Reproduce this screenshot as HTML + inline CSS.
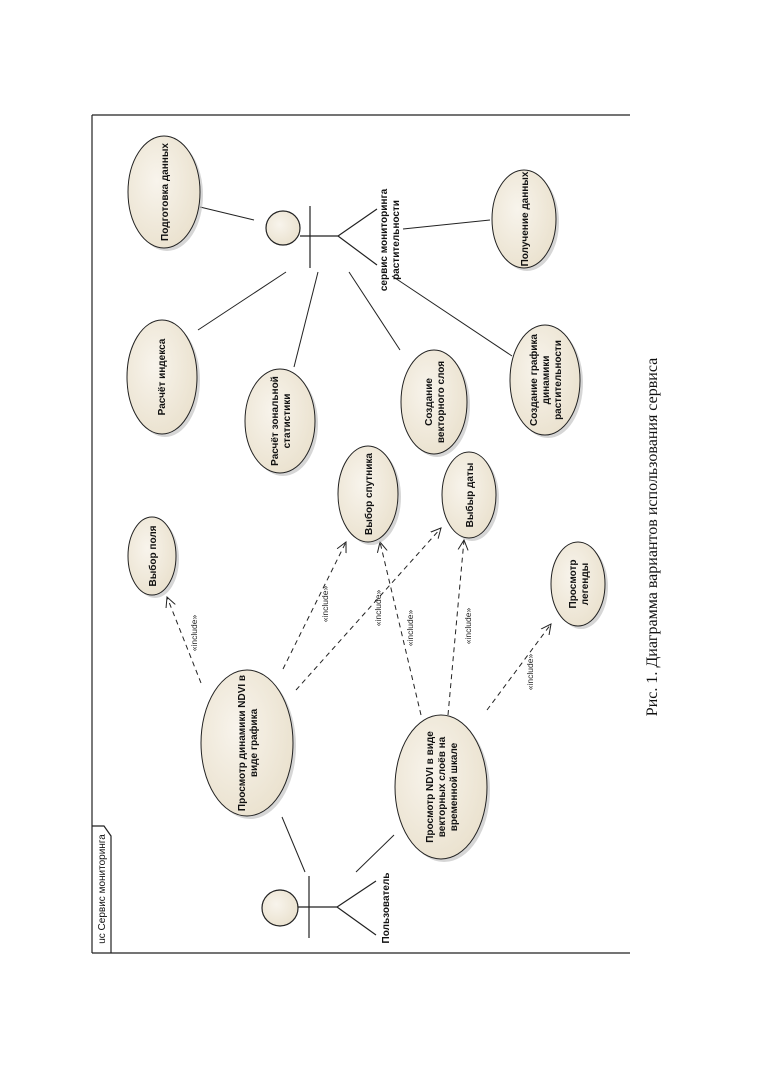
<!DOCTYPE html>
<html><head><meta charset="utf-8"><style>
html,body{margin:0;padding:0;background:#fff;}
svg{display:block;}
text{font-family:"Liberation Sans",sans-serif;}
.u{font-size:10px;font-weight:bold;fill:#111;}
.i{font-size:8.5px;fill:#222;}
</style></head><body>
<svg width="764" height="1080" viewBox="0 0 764 1080" xmlns="http://www.w3.org/2000/svg">
<defs>
<radialGradient id="g" cx="0.4" cy="0.4" r="0.7"><stop offset="0" stop-color="#f8f4ec"/><stop offset="1" stop-color="#e9e0cc"/></radialGradient>
<marker id="a" markerWidth="12" markerHeight="12" refX="10" refY="6" orient="auto" markerUnits="userSpaceOnUse"><path d="M0,1 L10,6 L0,11" fill="none" stroke="#222" stroke-width="1"/></marker>
</defs>
<g stroke="#222" stroke-width="1.2" fill="none">
<line x1="92" y1="115" x2="630" y2="115"/>
<line x1="92" y1="953" x2="630" y2="953"/>
<line x1="92" y1="115" x2="92" y2="953"/>
<polyline points="92,826 104,826 111,836 111,953"/>
</g>
<text transform="translate(105,889) rotate(-90)" text-anchor="middle" style="font-size:10px;fill:#111">uc Сервис мониторинга</text>

<g stroke="#222" stroke-width="1">
<line x1="200" y1="207" x2="254" y2="220"/>
<line x1="198" y1="330" x2="286" y2="272"/>
<line x1="294" y1="367" x2="318" y2="272"/>
<line x1="400" y1="350" x2="349" y2="272"/>
<line x1="512" y1="356" x2="392" y2="276"/>
<line x1="490" y1="220" x2="403" y2="229"/>
<line x1="282" y1="817" x2="305" y2="872"/>
<line x1="394" y1="835" x2="356" y2="872"/>
</g>

<g stroke="#222" stroke-width="1" stroke-dasharray="5,4" fill="none" marker-end="url(#a)">
<line x1="201" y1="683" x2="167" y2="597"/>
<line x1="283" y1="669" x2="346" y2="542"/>
<line x1="296" y1="690" x2="441" y2="528"/>
<line x1="421" y1="715" x2="380" y2="542"/>
<line x1="448" y1="715" x2="464" y2="540"/>
<line x1="487" y1="710" x2="551" y2="624"/>
</g>
<g class="i">
<text class="i" transform="translate(197,633) rotate(-90)" text-anchor="middle">«include»</text>
<text class="i" transform="translate(328,604) rotate(-90)" text-anchor="middle">«include»</text>
<text class="i" transform="translate(381,608) rotate(-90)" text-anchor="middle">«include»</text>
<text class="i" transform="translate(413,628) rotate(-90)" text-anchor="middle">«include»</text>
<text class="i" transform="translate(471,626) rotate(-90)" text-anchor="middle">«include»</text>
<text class="i" transform="translate(533,672) rotate(-90)" text-anchor="middle">«include»</text>
</g>

<g stroke="#222" stroke-width="1" fill="url(#g)">
<g fill="#bbb" stroke="none" opacity="0.6">
<ellipse cx="167" cy="195" rx="36" ry="56"/>
<ellipse cx="527" cy="222" rx="32" ry="49"/>
<ellipse cx="165" cy="380" rx="35" ry="57"/>
<ellipse cx="283" cy="424" rx="35" ry="52"/>
<ellipse cx="437" cy="405" rx="33" ry="52"/>
<ellipse cx="548" cy="383" rx="35" ry="55"/>
<ellipse cx="371" cy="497" rx="30" ry="48"/>
<ellipse cx="472" cy="498" rx="27" ry="43"/>
<ellipse cx="155" cy="559" rx="24" ry="39"/>
<ellipse cx="581" cy="587" rx="27" ry="42"/>
<ellipse cx="250" cy="746" rx="46" ry="73"/>
<ellipse cx="444" cy="790" rx="46" ry="72"/>
</g>
<ellipse cx="164" cy="192" rx="36" ry="56"/>
<ellipse cx="524" cy="219" rx="32" ry="49"/>
<ellipse cx="162" cy="377" rx="35" ry="57"/>
<ellipse cx="280" cy="421" rx="35" ry="52"/>
<ellipse cx="434" cy="402" rx="33" ry="52"/>
<ellipse cx="545" cy="380" rx="35" ry="55"/>
<ellipse cx="368" cy="494" rx="30" ry="48"/>
<ellipse cx="469" cy="495" rx="27" ry="43"/>
<ellipse cx="152" cy="556" rx="24" ry="39"/>
<ellipse cx="578" cy="584" rx="27" ry="42"/>
<ellipse cx="247" cy="743" rx="46" ry="73"/>
<ellipse cx="441" cy="787" rx="46" ry="72"/>
</g>

<text class="u" transform="translate(168,192) rotate(-90)" text-anchor="middle">Подготовка данных</text>
<text class="u" transform="translate(528,219) rotate(-90)" text-anchor="middle">Получение данных</text>
<text class="u" transform="translate(165,377) rotate(-90)" text-anchor="middle">Расчёт индекса</text>
<text class="u" transform="translate(280,421) rotate(-90)" text-anchor="middle"><tspan x="0" y="-2">Расчёт зональной</tspan><tspan x="0" y="10">статистики</tspan></text>
<text class="u" transform="translate(434,402) rotate(-90)" text-anchor="middle"><tspan x="0" y="-2">Создание</tspan><tspan x="0" y="10">векторного слоя</tspan></text>
<text class="u" transform="translate(545,380) rotate(-90)" text-anchor="middle"><tspan x="0" y="-8">Создание графика</tspan><tspan x="0" y="4">динамики</tspan><tspan x="0" y="16">растительности</tspan></text>
<text class="u" transform="translate(372,494) rotate(-90)" text-anchor="middle">Выбор спутника</text>
<text class="u" transform="translate(473,495) rotate(-90)" text-anchor="middle">Выбыр даты</text>
<text class="u" transform="translate(156,556) rotate(-90)" text-anchor="middle">Выбор поля</text>
<text class="u" transform="translate(578,584) rotate(-90)" text-anchor="middle"><tspan x="0" y="-2">Просмотр</tspan><tspan x="0" y="10">легенды</tspan></text>
<text class="u" transform="translate(247,743) rotate(-90)" text-anchor="middle"><tspan x="0" y="-2">Просмотр динамики NDVI в</tspan><tspan x="0" y="10">виде графика</tspan></text>
<text class="u" transform="translate(441,787) rotate(-90)" text-anchor="middle"><tspan x="0" y="-8">Просмотр NDVI в виде</tspan><tspan x="0" y="4">векторных слоёв на</tspan><tspan x="0" y="16">временной шкале</tspan></text>

<g stroke="#222" stroke-width="1.2" fill="url(#g)">
<circle cx="283" cy="228" r="17"/>
<line x1="300" y1="236" x2="338" y2="236"/>
<line x1="310" y1="206" x2="310" y2="268"/>
<polyline points="377,209 338,236 377,265" fill="none"/>
<circle cx="280" cy="908" r="18"/>
<line x1="298" y1="907" x2="337" y2="907"/>
<line x1="309" y1="876" x2="309" y2="938"/>
<polyline points="376,881 337,907 376,935" fill="none"/>
</g>
<text class="u" transform="translate(387,240) rotate(-90)" text-anchor="middle"><tspan x="0" y="0">сервис мониторинга</tspan><tspan x="0" y="12">растительности</tspan></text>
<text class="u" transform="translate(389,908) rotate(-90)" text-anchor="middle">Пользователь</text>

<text transform="translate(657,537) rotate(-90)" text-anchor="middle" style="font-family:'Liberation Serif',serif;font-size:16px;fill:#111">Рис. 1. Диаграмма вариантов использования сервиса</text>
</svg>
</body></html>
